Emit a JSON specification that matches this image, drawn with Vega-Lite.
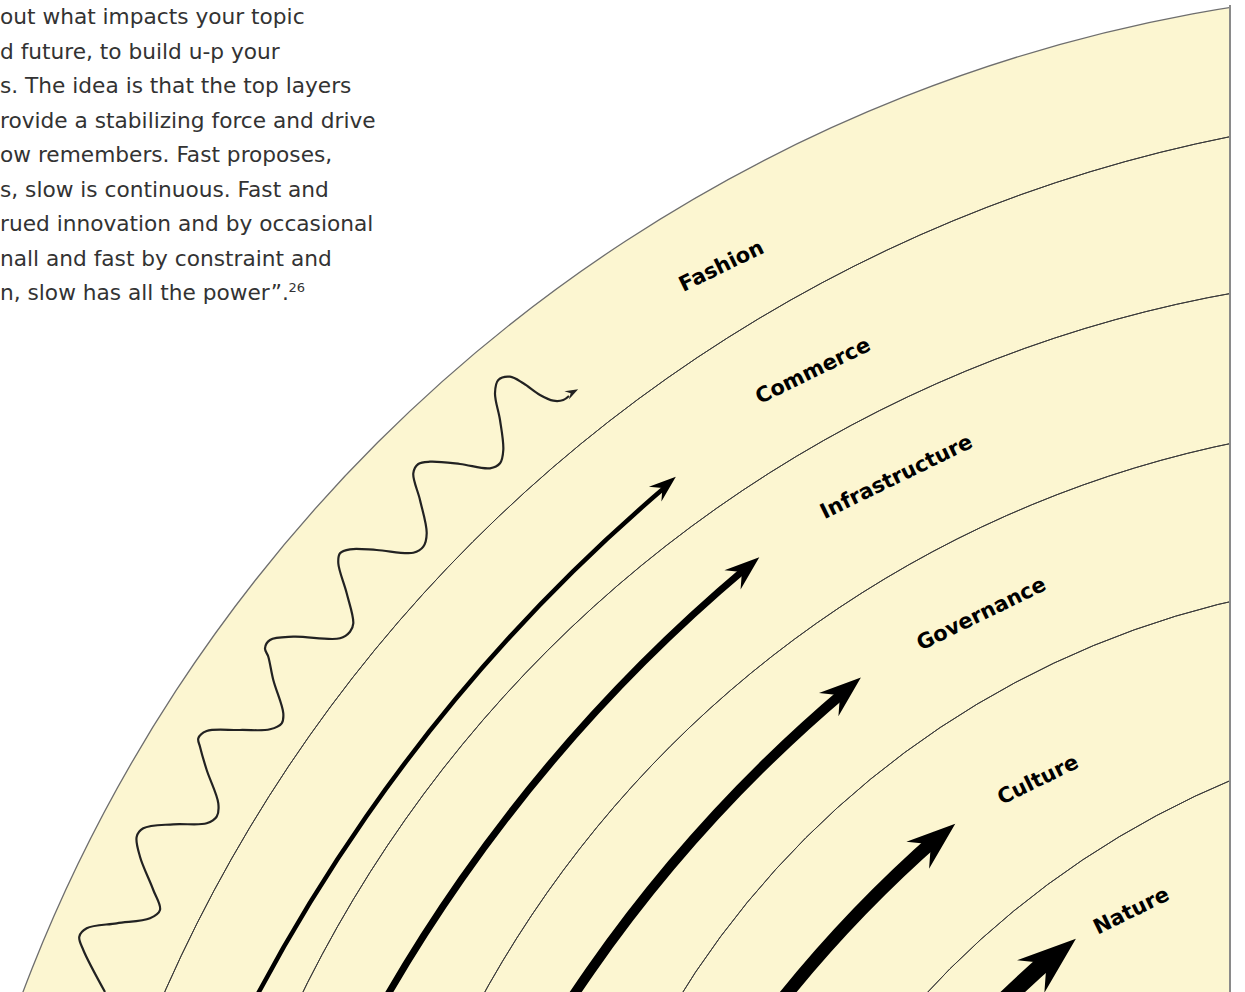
{
  "$schema": "https://vega.github.io/schema/vega-lite/v6.json",
  "width": 1245,
  "height": 992,
  "padding": 0,
  "autosize": {"type": "none"},
  "background": "white",
  "config": {"view": {"stroke": null}},
  "datasets": {
    "fillsec": [{"x": 1475, "y": 1540, "r": 1552, "r0": 0, "t1": 270, "t2": 360}],
    "outerarc": [{"x": 1475, "y": 1540, "r": 1552, "t1": 270, "t2": 360}],
    "arcs": [
      {"id": "arc1", "x": 1520, "y": 1589, "r": 1481, "t1": 270, "t2": 360},
      {"id": "arc2", "x": 1459, "y": 1562, "r": 1289, "t1": 270, "t2": 360},
      {"id": "arc3", "x": 1458, "y": 1534, "r": 1114, "t1": 270, "t2": 360},
      {"id": "arc4", "x": 1433, "y": 1465, "r": 887, "t1": 270, "t2": 360},
      {"id": "arc5", "x": 1570, "y": 1589, "r": 877, "t1": 270, "t2": 360}
    ],
    "shafts": [
      {"rank": 1, "x": 1786, "y": 1805, "r": 1730, "t1": 290, "t2": 319.7},
      {"rank": 2, "x": 1786, "y": 1805, "r": 1616, "t1": 290, "t2": 319.9},
      {"rank": 3, "x": 1786, "y": 1805, "r": 1458, "t1": 290, "t2": 319.8},
      {"rank": 4, "x": 1786, "y": 1805, "r": 1287, "t1": 290, "t2": 318.8},
      {"rank": 5, "x": 1786, "y": 1805, "r": 1122, "t1": 290, "t2": 319.1}
    ],
    "heads": [
      {"rank": 1, "x": 665.5, "y": 485.5}, {"rank": 2, "x": 745.9, "y": 568.6}, {"rank": 3, "x": 844.8, "y": 691.1},
      {"rank": 4, "x": 936.5, "y": 839.5}, {"rank": 5, "x": 1053.3, "y": 957.6}
    ],
    "wave": [
      {"i": 1, "x": 105, "y": 992}, {"i": 2, "x": 83.3, "y": 950}, {"i": 3, "x": 79.3, "y": 936.7},
      {"i": 4, "x": 86.7, "y": 928.3}, {"i": 5, "x": 116.7, "y": 923.3}, {"i": 6, "x": 150, "y": 918.3},
      {"i": 7, "x": 160, "y": 910}, {"i": 8, "x": 153.3, "y": 890}, {"i": 9, "x": 140, "y": 856.7},
      {"i": 10, "x": 136.7, "y": 836.7}, {"i": 11, "x": 143.3, "y": 828.3}, {"i": 12, "x": 173.3, "y": 824.3},
      {"i": 13, "x": 206.7, "y": 823.3}, {"i": 14, "x": 216.7, "y": 816.7}, {"i": 15, "x": 218.3, "y": 803.3},
      {"i": 16, "x": 206.7, "y": 770}, {"i": 17, "x": 200, "y": 746.7}, {"i": 18, "x": 198.3, "y": 738.3},
      {"i": 19, "x": 206.7, "y": 731}, {"i": 20, "x": 240, "y": 730}, {"i": 21, "x": 270, "y": 729.3},
      {"i": 22, "x": 281.7, "y": 723.3}, {"i": 23, "x": 283.3, "y": 713.3}, {"i": 24, "x": 273.3, "y": 680},
      {"i": 25, "x": 268.3, "y": 656.7}, {"i": 26, "x": 265, "y": 648.3}, {"i": 27, "x": 270, "y": 640},
      {"i": 28, "x": 293.3, "y": 636.7}, {"i": 29, "x": 340, "y": 638.3}, {"i": 30, "x": 350, "y": 631.7},
      {"i": 31, "x": 353.3, "y": 623.3}, {"i": 32, "x": 346.7, "y": 593.3}, {"i": 33, "x": 338.3, "y": 563.3},
      {"i": 34, "x": 340, "y": 553.3}, {"i": 35, "x": 350, "y": 549.3}, {"i": 36, "x": 376.7, "y": 550},
      {"i": 37, "x": 413.3, "y": 552.7}, {"i": 38, "x": 423.3, "y": 546.7}, {"i": 39, "x": 426.7, "y": 533.3},
      {"i": 40, "x": 420, "y": 500}, {"i": 41, "x": 413.3, "y": 473.3}, {"i": 42, "x": 418.3, "y": 464},
      {"i": 43, "x": 430, "y": 461.7}, {"i": 44, "x": 460, "y": 464}, {"i": 45, "x": 490, "y": 468.3},
      {"i": 46, "x": 500, "y": 463.3}, {"i": 47, "x": 503.3, "y": 450}, {"i": 48, "x": 500, "y": 420},
      {"i": 49, "x": 495, "y": 393.3}, {"i": 50, "x": 498.3, "y": 380}, {"i": 51, "x": 510, "y": 376.7},
      {"i": 52, "x": 523.3, "y": 383.3}, {"i": 53, "x": 540, "y": 395}, {"i": 54, "x": 553.3, "y": 400.7},
      {"i": 55, "x": 563.3, "y": 400}, {"i": 56, "x": 569, "y": 396}
    ],
    "wavehead": [{"x": 572.4, "y": 392.3}],
    "mask": [{"x": 1231, "x2": 1245, "y": 0, "y2": 992}],
    "edge": [{"x": 1230, "y": 5, "y2": 992}],
    "labels": [
      {"label": "Fashion", "x": 721.7, "y": 266.7},
      {"label": "Commerce", "x": 813.3, "y": 371.5},
      {"label": "Infrastructure", "x": 896.7, "y": 477.5},
      {"label": "Governance", "x": 981.7, "y": 614.5},
      {"label": "Culture", "x": 1038.3, "y": 780.5},
      {"label": "Nature", "x": 1131.7, "y": 911.5}
    ],
    "para": [
      {"t": "out what impacts your topic", "x": 0, "y": 24},
      {"t": "d future, to build u-p your", "x": 0, "y": 58.5},
      {"t": "s. The idea is that the top layers", "x": 0, "y": 93},
      {"t": "rovide a stabilizing force and drive", "x": 0, "y": 127.5},
      {"t": "ow remembers. Fast proposes,", "x": 0, "y": 162},
      {"t": "s, slow is continuous. Fast and", "x": 0, "y": 196.5},
      {"t": "rued innovation and by occasional", "x": 0, "y": 231},
      {"t": "nall and fast by constraint and", "x": 0, "y": 265.5},
      {"t": "n, slow has all the power”.", "x": 0, "y": 300}
    ],
    "sup": [{"t": "26", "x": 288.5, "y": 292}]
  },
  "encoding": {
    "x": {"field": "x", "type": "quantitative", "scale": {"domain": [0, 1245], "nice": false, "zero": false}, "axis": null},
    "y": {"field": "y", "type": "quantitative", "scale": {"domain": [0, 992], "nice": false, "zero": false, "reverse": true}, "axis": null}
  },
  "layer": [
    {
      "data": {"name": "fillsec"},
      "mark": {"type": "arc", "color": "#fcf6d1", "clip": true},
      "encoding": {
        "theta": {"field": "t1", "type": "quantitative", "stack": null, "scale": {"domain": [0, 360], "range": [0, 6.283185307179586]}},
        "theta2": {"field": "t2"},
        "radius": {"field": "r", "type": "quantitative", "scale": {"type": "linear", "domain": [0, 3000], "range": [0, 3000], "zero": true}},
        "radius2": {"field": "r0"}
      }
    },
    {
      "data": {"name": "arcs"},
      "mark": {"type": "arc", "filled": false, "color": "#3a3a3a", "strokeWidth": 1, "strokeJoin": "bevel", "clip": true},
      "encoding": {
        "theta": {"field": "t1", "type": "quantitative", "stack": null, "scale": {"domain": [0, 360], "range": [0, 6.283185307179586]}},
        "theta2": {"field": "t2"},
        "radius": {"field": "r", "type": "quantitative", "scale": {"type": "linear", "domain": [0, 3000], "range": [0, 3000], "zero": true}},
        "radius2": {"field": "r"},
        "detail": {"field": "id", "type": "nominal"}
      }
    },
    {
      "data": {"name": "outerarc"},
      "mark": {"type": "arc", "filled": false, "color": "#6e6e6e", "strokeWidth": 1.3, "strokeJoin": "bevel", "clip": true},
      "encoding": {
        "theta": {"field": "t1", "type": "quantitative", "stack": null, "scale": {"domain": [0, 360], "range": [0, 6.283185307179586]}},
        "theta2": {"field": "t2"},
        "radius": {"field": "r", "type": "quantitative", "scale": {"type": "linear", "domain": [0, 3000], "range": [0, 3000], "zero": true}},
        "radius2": {"field": "r"}
      }
    },
    {
      "data": {"name": "shafts"},
      "mark": {"type": "arc", "filled": false, "color": "black", "strokeJoin": "bevel", "clip": true},
      "encoding": {
        "theta": {"field": "t1", "type": "quantitative", "stack": null, "scale": {"domain": [0, 360], "range": [0, 6.283185307179586]}},
        "theta2": {"field": "t2"},
        "radius": {"field": "r", "type": "quantitative", "scale": {"type": "linear", "domain": [0, 3000], "range": [0, 3000], "zero": true}},
        "radius2": {"field": "r"},
        "strokeWidth": {"field": "rank", "type": "quantitative", "scale": {"type": "threshold", "domain": [1.5, 2.5, 3.5, 4.5], "range": [4.5, 7, 10, 13, 17]}, "legend": null}
      }
    },
    {
      "data": {"name": "heads"},
      "mark": {"type": "point", "shape": "M1,0L-1,-0.72L-0.3,0L-1,0.72Z", "filled": true, "color": "black", "opacity": 1, "strokeWidth": 0, "angle": -40},
      "encoding": {
        "size": {"field": "rank", "type": "quantitative", "scale": {"type": "threshold", "domain": [1.5, 2.5, 3.5, 4.5], "range": [729, 1225, 1764, 2401, 3481]}, "legend": null}
      }
    },
    {
      "data": {"name": "wave"},
      "mark": {"type": "line", "interpolate": "catmull-rom", "color": "#222222", "strokeWidth": 2.2},
      "encoding": {"order": {"field": "i", "type": "quantitative"}}
    },
    {
      "data": {"name": "wavehead"},
      "mark": {"type": "point", "shape": "M1,0L-1,-0.72L-0.3,0L-1,0.72Z", "filled": true, "color": "#222222", "opacity": 1, "strokeWidth": 0, "size": 170, "angle": -28},
      "encoding": {}
    },
    {
      "data": {"name": "mask"},
      "mark": {"type": "rect", "color": "white"},
      "encoding": {"x2": {"field": "x2"}, "y2": {"field": "y2"}}
    },
    {
      "data": {"name": "edge"},
      "mark": {"type": "rule", "color": "#8a8a8a", "strokeWidth": 2},
      "encoding": {"y2": {"field": "y2"}}
    },
    {
      "data": {"name": "labels"},
      "mark": {"type": "text", "font": "DejaVu Sans", "fontWeight": "bold", "fontSize": 21, "angle": -26, "align": "center", "baseline": "middle", "color": "black"},
      "encoding": {"text": {"field": "label", "type": "nominal"}}
    },
    {
      "data": {"name": "para"},
      "mark": {"type": "text", "font": "DejaVu Sans", "fontSize": 21.7, "align": "left", "baseline": "alphabetic", "color": "#333333"},
      "encoding": {"text": {"field": "t", "type": "nominal"}}
    },
    {
      "data": {"name": "sup"},
      "mark": {"type": "text", "font": "DejaVu Sans", "fontSize": 13, "align": "left", "baseline": "alphabetic", "color": "#333333"},
      "encoding": {"text": {"field": "t", "type": "nominal"}}
    }
  ]
}
